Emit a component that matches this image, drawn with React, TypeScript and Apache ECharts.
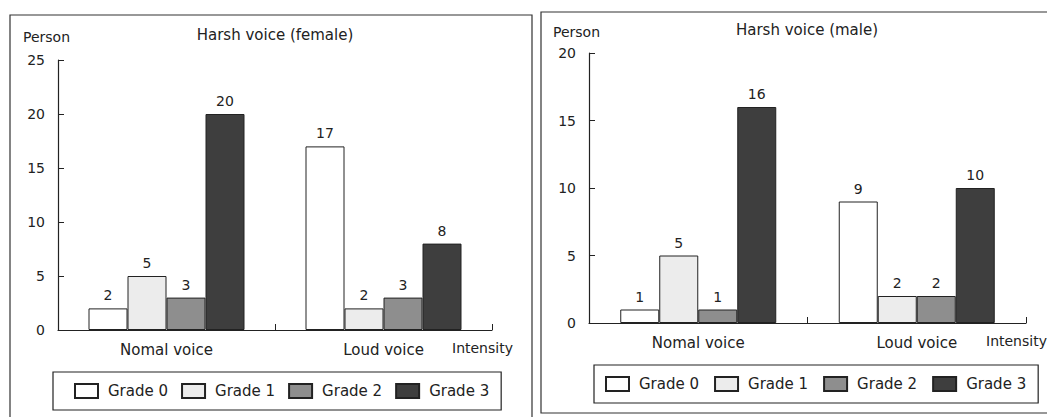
import React, { useEffect, useRef } from "react";
import * as echarts from "echarts";

const categories = ["Nomal voice", "Loud voice"];
const grades = ["Grade 0", "Grade 1", "Grade 2", "Grade 3"];
const femaleValues = [
  [2, 17],
  [5, 2],
  [3, 3],
  [20, 8],
];
const maleValues = [
  [1, 9],
  [5, 2],
  [1, 2],
  [16, 10],
];
const femaleTicks = { max: 25, interval: 5 };
const maleTicks = { max: 20, interval: 5 };
const gradeColors = ["#ffffff", "#ececec", "#8e8e8e", "#3e3e3e"];

const FONT = "DejaVu Sans";
const INK = "#222";

export default function App() {
  const ref = useRef<HTMLDivElement>(null);
  useEffect(() => {
    if (!ref.current) return;
    const chart = echarts.init(ref.current, undefined, { renderer: "svg" });

    const mkX = (gridIndex: number) => ({
      type: "category",
      gridIndex,
      data: categories,
      boundaryGap: true,
      axisLine: { show: true, lineStyle: { color: INK, width: 1.2 } },
      axisTick: { show: true, inside: true, length: 6, lineStyle: { color: INK } },
      axisLabel: { color: INK, fontFamily: FONT, fontSize: 15, margin: 12 },
      splitLine: { show: false },
    });
    const mkY = (gridIndex: number, t: { max: number; interval: number }) => ({
      type: "value",
      gridIndex,
      min: 0,
      max: t.max,
      interval: t.interval,
      axisLine: { show: true, lineStyle: { color: INK, width: 1.2 } },
      axisTick: { show: true, inside: true, length: 6, lineStyle: { color: INK } },
      axisLabel: { color: INK, fontFamily: FONT, fontSize: 14, margin: 13 },
      splitLine: { show: false },
    });

    const mkSeries = (vals: number[][], idx: number) =>
      grades.map((g, i) => ({
        type: "bar",
        name: g,
        xAxisIndex: idx,
        yAxisIndex: idx,
        data: vals[i],
        barWidth: 39,
        barGap: "0%",
        itemStyle: {
          color: gradeColors[i],
          borderColor: INK,
          borderWidth: 1,
        },
        label: {
          show: true,
          position: "top",
          distance: 6,
          color: INK,
          fontFamily: FONT,
          fontSize: 14,
        },
      }));

    const mkLegend = (left: number, top: number, padLeft: number, gap: number) => ({
      data: grades,
      left,
      top,
      width: 430,
      orient: "horizontal",
      itemWidth: 23,
      itemHeight: 14,
      itemGap: gap,
      padding: [11, 12, 11, padLeft],
      borderColor: INK,
      borderWidth: 1.2,
      icon: "rect",
      selectedMode: false,
      textStyle: {
        color: INK,
        fontFamily: FONT,
        fontSize: 15,
        padding: [0, 0, 0, 5],
      },
    });

    const txt = (text: string, x: number, y: number, align = "left", size = 14) => ({
      type: "text",
      x,
      y,
      style: {
        text,
        fill: INK,
        font: `${size}px '${FONT}'`,
        textAlign: align,
        textVerticalAlign: "middle",
      },
    });

    chart.setOption({
      animation: false,
      backgroundColor: "#ffffff",
      grid: [
        { left: 58, right: 555, top: 60, bottom: 87 },
        { left: 589, right: 21, top: 53, bottom: 94 },
      ],
      xAxis: [mkX(0), mkX(1)],
      yAxis: [mkY(0, femaleTicks), mkY(1, maleTicks)],
      legend: [mkLegend(53, 372, 21, 13), mkLegend(594, 365, 11, 15)],
      series: [...mkSeries(femaleValues, 0), ...mkSeries(maleValues, 1)],
      graphic: [
        {
          type: "rect",
          shape: { x: 10, y: 15, width: 522, height: 420 },
          style: { fill: "none", stroke: "#333", lineWidth: 1.2 },
          silent: true,
        },
        {
          type: "rect",
          shape: { x: 541, y: 12, width: 520, height: 401 },
          style: { fill: "none", stroke: "#333", lineWidth: 1.2 },
          silent: true,
        },
        txt("Harsh voice (female)", 275, 35, "center", 15),
        txt("Harsh voice (male)", 807, 30, "center", 15),
        txt("Person", 23, 37, "left", 14),
        txt("Person", 553, 32, "left", 14),
        txt("Intensity", 452, 348, "left", 14),
        txt("Intensity", 986, 341, "left", 14),
      ],
    });
    return () => chart.dispose();
  }, []);
  return (
    <div
      ref={ref}
      style={{ position: "fixed", left: 0, top: 0, width: 1047, height: 417 }}
    />
  );
}
